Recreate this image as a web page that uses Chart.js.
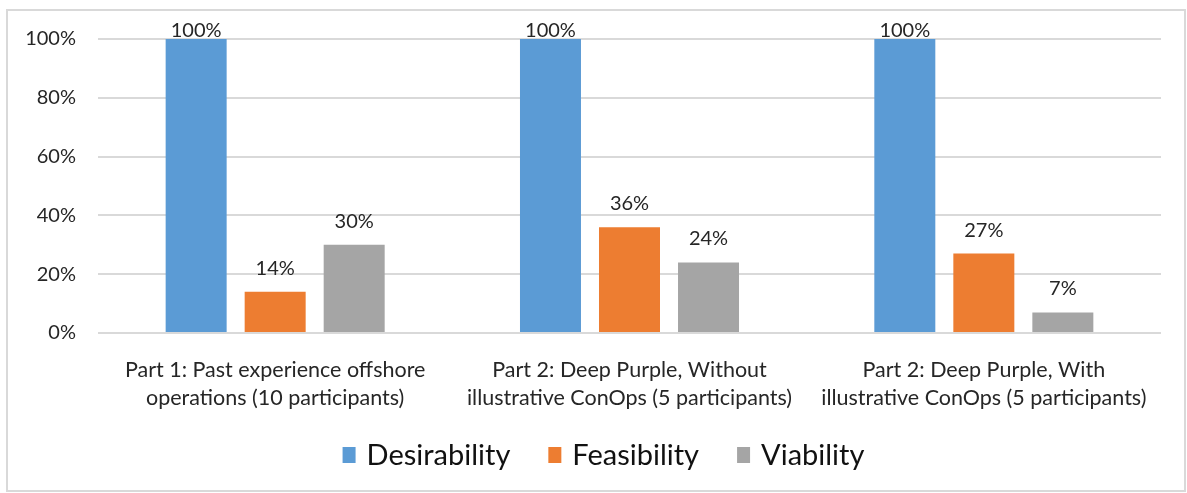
<!DOCTYPE html>
<html>
<head>
<meta charset="utf-8">
<script src="https://cdn.jsdelivr.net/npm/chart.js@4.4.1/dist/chart.umd.min.js"></script>
<style>
  html, body { margin: 0; padding: 0; background: #ffffff; }
  #frame {
    position: absolute; left: 6px; top: 9px; width: 1180px; height: 483px;
    border: 2px solid #d9d9d9; box-sizing: border-box;
  }
  #wrap { position: absolute; left: 0; top: 0; width: 1187px; height: 493px; }
</style>
</head>
<body>
<div id="frame"></div>
<div id="wrap"><canvas id="chart"></canvas></div>
<script>
// Study parts shown along the x axis (each label split over two lines)
const categories = [
  ['Part 1: Past experience offshore', 'operations (10 participants)'],
  ['Part 2: Deep Purple, Without', 'illustrative ConOps (5 participants)'],
  ['Part 2: Deep Purple, With', 'illustrative ConOps (5 participants)']
];

// Share of participants (%) per criterion
const desirability = [100, 100, 100];
const feasibility  = [14, 36, 27];
const viability    = [30, 24, 7];

// Value axis ticks (%)
const yTickValues = [0, 20, 40, 60, 80, 100];

const FONT = 'Lato';
const TEXT = '#262626';

// Writes each bar's value above it, kept inside the plot area
const valueLabels = {
  id: 'valueLabels',
  afterDatasetsDraw(chart) {
    const ctx = chart.ctx;
    const top = chart.chartArea.top;
    ctx.save();
    ctx.font = '20px ' + FONT;
    ctx.fillStyle = TEXT;
    ctx.textAlign = 'center';
    ctx.textBaseline = 'alphabetic';
    chart.data.datasets.forEach((ds, di) => {
      chart.getDatasetMeta(di).data.forEach((bar, i) => {
        const y = Math.max(bar.y - 17, top - 2);
        ctx.fillText(ds.data[i] + '%', bar.x, y);
      });
    });
    ctx.restore();
  }
};

// Single-row legend under the axis labels: colour square + series name
const seriesLegend = {
  id: 'seriesLegend',
  afterDraw(chart, args, opts) {
    const ctx = chart.ctx;
    const items = chart.data.datasets.map(ds => ({ label: ds.label, color: ds.backgroundColor }));
    ctx.save();
    ctx.font = opts.fontSize + 'px ' + FONT;
    ctx.textBaseline = 'middle';
    const widths = items.map(it => opts.boxW + opts.boxGap + ctx.measureText(it.label).width);
    const total = widths.reduce((a, b) => a + b, 0) + opts.itemGap * (items.length - 1);
    let x = chart.width / 2 + opts.shift - total / 2;
    const cy = opts.centerY;
    items.forEach((it, i) => {
      ctx.fillStyle = it.color;
      ctx.fillRect(x, cy - opts.boxH / 2, opts.boxW, opts.boxH);
      ctx.fillStyle = '#111111';
      ctx.fillText(it.label, x + opts.boxW + opts.boxGap, cy + 1);
      x += widths[i] + opts.itemGap;
    });
    ctx.restore();
  }
};

new Chart(document.getElementById('chart'), {
  type: 'bar',
  data: {
    labels: categories,
    datasets: [
      { label: 'Desirability', data: desirability, backgroundColor: '#5b9bd5' },
      { label: 'Feasibility',  data: feasibility,  backgroundColor: '#ed7d31' },
      { label: 'Viability',    data: viability,    backgroundColor: '#a5a5a5' }
    ]
  },
  options: {
    responsive: true,
    maintainAspectRatio: false,
    animation: false,
    layout: { padding: { left: 0, right: 26, top: 39, bottom: 0 } },
    datasets: { bar: { categoryPercentage: 0.669, barPercentage: 0.772 } },
    scales: {
      x: {
        grid: { display: false, drawTicks: false },
        border: { display: false },
        ticks: {
          color: TEXT,
          padding: 23,
          maxRotation: 0,
          autoSkip: false,
          font: { family: FONT, size: 21.5, lineHeight: 1.3 }
        },
        afterFit(scale) { scale.height = 160; }
      },
      y: {
        min: 0,
        max: 100,
        afterBuildTicks(scale) { scale.ticks = yTickValues.map(v => ({ value: v })); },
        grid: { color: '#d9d9d9', lineWidth: 2, drawTicks: false },
        border: { display: false },
        ticks: {
          color: TEXT,
          padding: 22,
          font: { family: FONT, size: 20 },
          callback: v => v + '%'
        },
        afterFit(scale) { scale.width = 98; }
      }
    },
    plugins: {
      legend: { display: false },
      tooltip: { enabled: false },
      seriesLegend: { fontSize: 29, boxW: 13, boxH: 16, boxGap: 11, itemGap: 38, centerY: 455, shift: 10 }
    }
  },
  plugins: [valueLabels, seriesLegend]
});
</script>
</body>
</html>
